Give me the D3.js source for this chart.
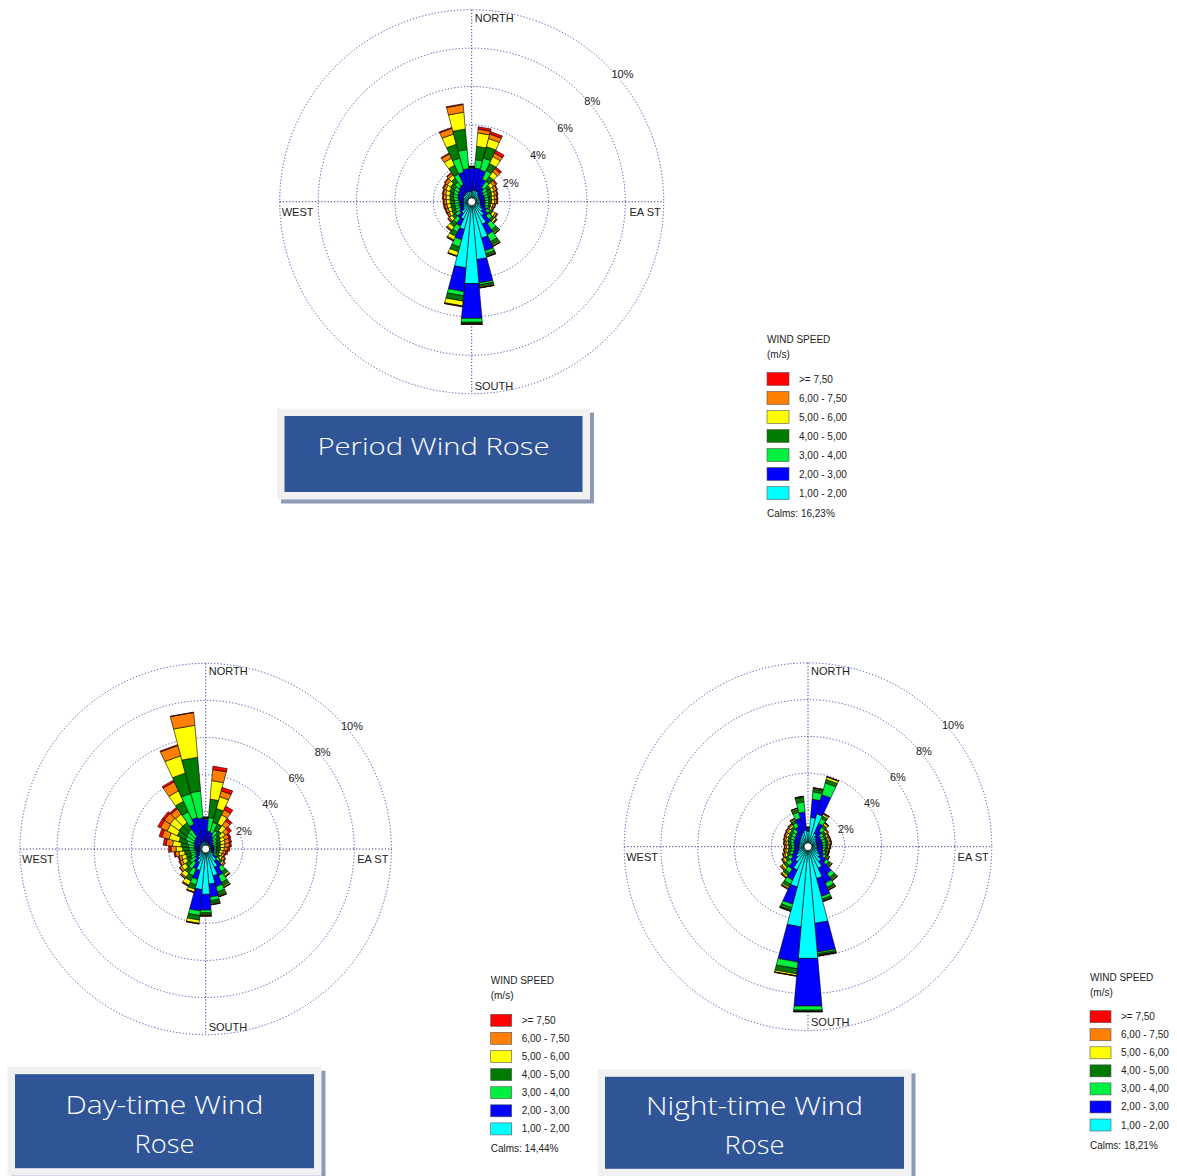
<!DOCTYPE html>
<html>
<head>
<meta charset="utf-8">
<script src="https://cdn.jsdelivr.net/npm/d3@7"></script>
<style>
  body { margin: 0; background: #fff; }
  svg { display: block; font-family: "Liberation Sans", Arial, sans-serif; }
</style>
</head>
<body>
<svg id="chart" width="1177" height="1176"></svg>
<script>
// sectors every 10 degrees, clockwise from north
var directions = d3.range(0, 360, 10);
var speedClasses = ["1,00 - 2,00", "2,00 - 3,00", "3,00 - 4,00", "4,00 - 5,00", "5,00 - 6,00", "6,00 - 7,50", ">= 7,50"];
var speedColors = ["#00ffff", "#0000ff", "#00f040", "#007a00", "#ffff00", "#ff8000", "#ff0000"];
var ringTicks = [2, 4, 6, 8, 10];

// frequency (%) per direction, one column per speed class (low -> high)
var periodFreq = [
  [0.5,1.25,0.05,0.02,0.02,0.01,0.01],[0.6,1.16,0.44,0.7,0.7,0.2,0.12],[0.6,1.11,0.65,0.61,0.44,0.24,0.13],
  [0.6,0.7,0.5,0.4,0.4,0.2,0.15],[0.5,0.4,0.4,0.3,0.3,0.2,0.1],[0.45,0.3,0.25,0.2,0.2,0.15,0.07],
  [0.45,0.25,0.25,0.2,0.15,0.15,0.05],[0.45,0.25,0.2,0.2,0.15,0.13,0.05],[0.45,0.25,0.2,0.15,0.15,0.13,0.05],
  [0.45,0.25,0.2,0.15,0.15,0.12,0.04],[0.45,0.25,0.2,0.1,0.12,0.1,0.03],[0.5,0.25,0.15,0.1,0.1,0.08,0.02],
  [0.55,0.3,0.2,0.15,0.15,0.1,0.05],[0.7,0.35,0.25,0.15,0.1,0.05,0.02],[0.9,0.5,0.4,0.18,0.06,0.02,0.01],
  [1.3,0.6,0.4,0.2,0.06,0.02,0.01],[1.97,0.68,0.15,0.12,0.04,0.02,0.01],[3.03,1.22,0.1,0.1,0.05,0.01,0.01],
  [4.28,1.82,0.2,0.06,0.03,0.01,0.01],[3.46,1.24,0.22,0.28,0.25,0.03,0.02],[1.5,0.55,0.4,0.25,0.22,0.03,0.01],
  [1.0,0.4,0.35,0.25,0.2,0.05,0.02],[0.75,0.3,0.3,0.25,0.2,0.06,0.02],[0.55,0.25,0.25,0.2,0.17,0.08,0.03],
  [0.5,0.2,0.25,0.2,0.15,0.1,0.03],[0.45,0.2,0.25,0.2,0.18,0.12,0.05],[0.45,0.2,0.25,0.2,0.2,0.12,0.06],
  [0.45,0.2,0.25,0.22,0.2,0.13,0.05],[0.45,0.25,0.25,0.2,0.2,0.15,0.05],[0.45,0.3,0.25,0.2,0.22,0.13,0.05],
  [0.5,0.3,0.25,0.23,0.22,0.12,0.06],[0.5,0.35,0.25,0.25,0.2,0.15,0.05],[0.5,0.45,0.3,0.25,0.2,0.12,0.04],
  [0.55,0.45,0.6,0.5,0.4,0.25,0.05],[0.55,1.05,0.76,0.74,0.55,0.31,0.04],[0.55,1.18,1.0,1.07,0.88,0.4,0.04]
];
var dayFreq = [
  [0.4,1.2,0.05,0.02,0.03,0.02,0.01],[0.35,0.62,0.73,1.0,1.0,0.6,0.18],[0.35,0.57,0.57,0.77,0.66,0.33,0.19],
  [0.3,0.45,0.35,0.41,0.52,0.31,0.21],[0.3,0.3,0.3,0.3,0.35,0.3,0.15],[0.3,0.2,0.25,0.25,0.3,0.25,0.15],
  [0.3,0.15,0.2,0.25,0.25,0.25,0.1],[0.3,0.15,0.2,0.2,0.25,0.25,0.1],[0.3,0.15,0.15,0.2,0.25,0.25,0.1],
  [0.3,0.15,0.15,0.2,0.2,0.2,0.1],[0.3,0.15,0.15,0.15,0.2,0.15,0.1],[0.3,0.15,0.15,0.15,0.15,0.15,0.05],
  [0.35,0.15,0.2,0.15,0.15,0.15,0.05],[0.5,0.25,0.2,0.15,0.1,0.08,0.02],[0.8,0.4,0.3,0.2,0.1,0.05,0.01],
  [1.1,0.5,0.4,0.2,0.07,0.03,0.01],[1.5,0.6,0.3,0.2,0.05,0.02,0.01],[1.9,0.7,0.2,0.15,0.05,0.02,0.01],
  [2.45,0.85,0.15,0.1,0.05,0.02,0.01],[2.2,1.15,0.25,0.25,0.17,0.03,0.01],[1.2,0.5,0.3,0.25,0.15,0.03,0.01],
  [0.8,0.4,0.4,0.3,0.25,0.05,0.02],[0.6,0.3,0.4,0.3,0.25,0.08,0.02],[0.45,0.25,0.35,0.3,0.25,0.12,0.03],
  [0.4,0.2,0.3,0.25,0.25,0.15,0.05],[0.35,0.2,0.3,0.25,0.25,0.15,0.05],[0.35,0.2,0.3,0.3,0.3,0.2,0.07],
  [0.35,0.25,0.3,0.35,0.35,0.28,0.12],[0.35,0.25,0.35,0.4,0.45,0.35,0.15],[0.35,0.3,0.4,0.45,0.55,0.4,0.15],
  [0.35,0.35,0.5,0.5,0.6,0.4,0.15],[0.35,0.4,0.5,0.5,0.6,0.37,0.13],[0.35,0.45,0.5,0.45,0.55,0.35,0.1],
  [0.4,1.09,0.73,0.62,0.62,0.54,0.1],[0.4,1.36,1.34,1.14,0.96,0.57,0.05],[0.4,1.28,1.46,1.82,1.73,0.69,0.02]
];
var nightFreq = [
  [0.85,0.15,0.03,0.02,0.01,0.01,0],[1.6,1.0,0.4,0.15,0.05,0.02,0.01],[1.85,1.08,0.67,0.2,0.13,0.02,0.01],
  [0.8,0.6,0.3,0.15,0.1,0.05,0.02],[0.65,0.4,0.25,0.15,0.1,0.05,0.02],[0.55,0.3,0.2,0.15,0.1,0.05,0.02],
  [0.5,0.3,0.2,0.12,0.1,0.06,0.02],[0.5,0.3,0.2,0.12,0.1,0.06,0.02],[0.5,0.3,0.2,0.12,0.1,0.06,0.02],
  [0.5,0.3,0.18,0.12,0.08,0.05,0.02],[0.5,0.3,0.15,0.12,0.08,0.03,0.02],[0.55,0.3,0.15,0.1,0.05,0.03,0.02],
  [0.65,0.3,0.15,0.1,0.06,0.03,0.01],[0.8,0.4,0.2,0.12,0.06,0.02,0.01],[1.0,0.8,0.25,0.15,0.05,0.02,0.01],
  [1.3,0.9,0.25,0.1,0.05,0.02,0.01],[1.8,1.0,0.15,0.1,0.03,0.01,0.01],[4.19,1.57,0.09,0.09,0.02,0.01,0.01],
  [6.1,2.6,0.23,0.05,0.02,0.01,0.01],[4.38,1.92,0.37,0.28,0.1,0.02,0.01],[2.27,0.97,0.19,0.17,0.02,0.02,0.01],
  [1.4,0.6,0.25,0.17,0.08,0.05,0.02],[1.0,0.5,0.25,0.17,0.1,0.06,0.02],[0.8,0.4,0.25,0.17,0.12,0.08,0.03],
  [0.65,0.35,0.22,0.16,0.12,0.07,0.03],[0.55,0.3,0.2,0.15,0.12,0.1,0.03],[0.5,0.25,0.2,0.15,0.12,0.1,0.03],
  [0.5,0.22,0.18,0.15,0.12,0.1,0.03],[0.5,0.25,0.2,0.15,0.12,0.1,0.03],[0.5,0.3,0.2,0.15,0.12,0.09,0.04],
  [0.5,0.32,0.23,0.15,0.12,0.1,0.03],[0.55,0.33,0.22,0.15,0.12,0.09,0.04],[0.6,0.35,0.25,0.15,0.1,0.07,0.03],
  [0.7,0.5,0.25,0.15,0.07,0.03,0.02],[0.8,0.8,0.35,0.15,0.06,0.02,0.01],[0.9,1.0,0.55,0.25,0.04,0.01,0.01]
];
var periodCalms = "16,23%";
var dayCalms = "14,44%";
var nightCalms = "18,21%";

var svg = d3.select("#chart");
svg.append("rect").attr("width", 1177).attr("height", 1176).attr("fill", "#fff");

function segPath(dir, r0, r1) {
  var a0 = (dir - 5) * Math.PI / 180, a1 = (dir + 5) * Math.PI / 180;
  var p = d3.path();
  p.moveTo(r0 * Math.sin(a0), -r0 * Math.cos(a0));
  p.lineTo(r1 * Math.sin(a0), -r1 * Math.cos(a0));
  p.lineTo(r1 * Math.sin(a1), -r1 * Math.cos(a1));
  p.lineTo(r0 * Math.sin(a1), -r0 * Math.cos(a1));
  p.closePath();
  return p.toString();
}

function drawRose(cx, cy, R, freq) {
  var g = svg.append("g").attr("transform", "translate(" + cx + "," + cy + ")");
  var r = d3.scaleLinear().domain([0, 10]).range([0, R]);
  var hole = 4;

  g.selectAll("circle.ring").data(ringTicks).enter().append("circle")
    .attr("class", "ring")
    .attr("r", function(d) { return r(d); })
    .attr("fill", "none")
    .attr("stroke", "#4a4ab4")
    .attr("stroke-width", 1)
    .attr("stroke-dasharray", "1.2,2");
  g.append("line").attr("x1", -R).attr("x2", R).attr("y1", 0).attr("y2", 0)
    .attr("stroke", "#32328f").attr("stroke-dasharray", "1.2,2");
  g.append("line").attr("y1", -R).attr("y2", R).attr("x1", 0).attr("x2", 0)
    .attr("stroke", "#32328f").attr("stroke-dasharray", "1.2,2");

  var series = d3.stack().keys(d3.range(speedClasses.length))(freq);
  var segs = [];
  freq.forEach(function(row, i) {
    series.forEach(function(s, k) {
      var r0 = Math.max(hole, r(s[i][0])), r1 = r(s[i][1]);
      if (r1 > r0) segs.push({ dir: directions[i], k: k, r0: r0, r1: r1 });
    });
  });
  g.selectAll("path.seg").data(segs).enter().append("path")
    .attr("class", "seg")
    .attr("d", function(d) { return segPath(d.dir, d.r0, d.r1); })
    .attr("fill", function(d) { return speedColors[d.k]; })
    .attr("stroke", "#000")
    .attr("stroke-width", 0.6);

  g.append("circle").attr("r", hole).attr("fill", "#fff").attr("stroke", "#000").attr("stroke-width", 0.8);

  // ring labels along the north-east diagonal
  g.selectAll("text.tick").data(ringTicks).enter().append("text")
    .attr("x", function(d) { return r(d) * Math.SQRT1_2 + 4; })
    .attr("y", function(d) { return -r(d) * Math.SQRT1_2 + 12; })
    .attr("font-size", 11).attr("fill", "#222")
    .text(function(d) { return d + "%"; });

  g.append("text").attr("x", 3).attr("y", -R + 12).attr("font-size", 11).attr("fill", "#222").text("NORTH");
  g.append("text").attr("x", 3).attr("y", R - 4).attr("font-size", 11).attr("fill", "#222").text("SOUTH");
  g.append("text").attr("x", -R + 2).attr("y", 14).attr("font-size", 11).attr("fill", "#222").text("WEST");
  g.append("text").attr("x", R - 3).attr("y", 14).attr("text-anchor", "end").attr("font-size", 11).attr("fill", "#222").text("EA ST");
}

function drawLegend(x, y0, step, sw, sh, calms) {
  var g = svg.append("g").attr("transform", "translate(" + x + ",0)");
  g.append("text").attr("y", y0 - 36).attr("font-size", 10).attr("fill", "#222").text("WIND SPEED");
  g.append("text").attr("y", y0 - 21).attr("font-size", 10).attr("fill", "#222").text("(m/s)");
  var items = speedClasses.map(function(s, i) { return { label: s, color: speedColors[i] }; }).reverse();
  var rows = g.selectAll("g.item").data(items).enter().append("g")
    .attr("transform", function(d, i) { return "translate(0," + (y0 + i * step) + ")"; });
  rows.append("rect").attr("y", -sh / 2).attr("width", sw).attr("height", sh)
    .attr("fill", function(d) { return d.color; }).attr("stroke", "#555").attr("stroke-width", 0.6);
  rows.append("text").attr("x", sw + 10).attr("y", 3.5).attr("font-size", 10).attr("fill", "#222")
    .text(function(d) { return d.label; });
  g.append("text").attr("y", y0 + 6 * step + 20 + 3.5).attr("font-size", 10).attr("fill", "#222").text("Calms: " + calms);
}

function drawTitle(x, y, w, h, lines, widths, baselines, fs) {
  svg.append("rect").attr("x", x + 4).attr("y", y + 4).attr("width", w).attr("height", h).attr("fill", "#8d9ab6");
  svg.append("rect").attr("x", x).attr("y", y).attr("width", w).attr("height", h).attr("fill", "#f1f1f1");
  svg.append("rect").attr("x", x + 7.5).attr("y", y + 7.5).attr("width", w - 15).attr("height", h - 15).attr("fill", "#2f5597");
  lines.forEach(function(t, i) {
    svg.append("text").attr("x", x + w / 2).attr("y", baselines[i])
      .attr("text-anchor", "middle").attr("font-family", "'Open Sans', 'DejaVu Sans', sans-serif")
      .attr("font-weight", 300)
      .attr("font-size", fs).attr("fill", "#fff")
      .attr("textLength", widths[i]).attr("lengthAdjust", "spacingAndGlyphs")
      .text(t);
  });
}

drawRose(471.7, 201.7, 192, periodFreq);
drawRose(205.7, 849, 185.7, dayFreq);
drawRose(808, 846.7, 183.8, nightFreq);

drawLegend(767, 379, 19, 22, 13, periodCalms);
drawLegend(490.7, 1020.3, 18.1, 21, 12, dayCalms);
drawLegend(1090, 1016.7, 18.05, 21, 12, nightCalms);

drawTitle(277, 408.5, 313, 91, ["Period Wind Rose"], [232], [455], 24);
drawTitle(7.5, 1066.7, 314, 109, ["Day-time Wind", "Rose"], [198, 60], [1114, 1152.5], 26);
drawTitle(597.5, 1069.3, 314, 107, ["Night-time Wind", "Rose"], [217, 60], [1115, 1154], 26);
</script>
</body>
</html>
